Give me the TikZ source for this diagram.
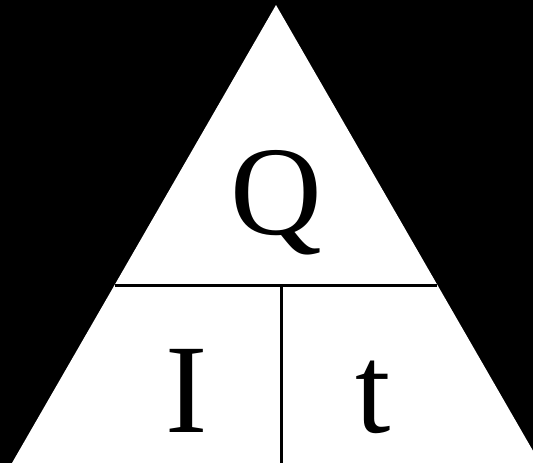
\documentclass[tikz,border=0pt]{standalone}
\usepackage{fontspec}
\setmainfont{Liberation Serif}
\begin{document}
\begin{tikzpicture}[x=1pt,y=-1pt,
  letter/.style={inner sep=0pt,anchor=base,font=\fontsize{127}{130}\selectfont},
  divider/.style={line width=3pt,black}]
\useasboundingbox (0,0) rectangle (533,463);
\fill[black] (0,0) rectangle (533,463);
\coordinate (apex) at (276,5);
\coordinate (bl) at (12,463);
\coordinate (br) at (540,463);
\fill[white] (apex) -- (br) -- (bl) -- cycle;
\coordinate (hl) at (115,285);
\coordinate (hr) at (437,285);
\coordinate (vt) at (281,285);
\coordinate (vb) at (281,463);
\draw[divider] (hl) -- (hr);
\draw[divider] (vt) -- (vb);
\node[letter] (Q) at (276,234) {Q};
\node[letter] (I) at (187,432) {I};
\node[letter] (t) at (373,432) {t};
\end{tikzpicture}
\end{document}
